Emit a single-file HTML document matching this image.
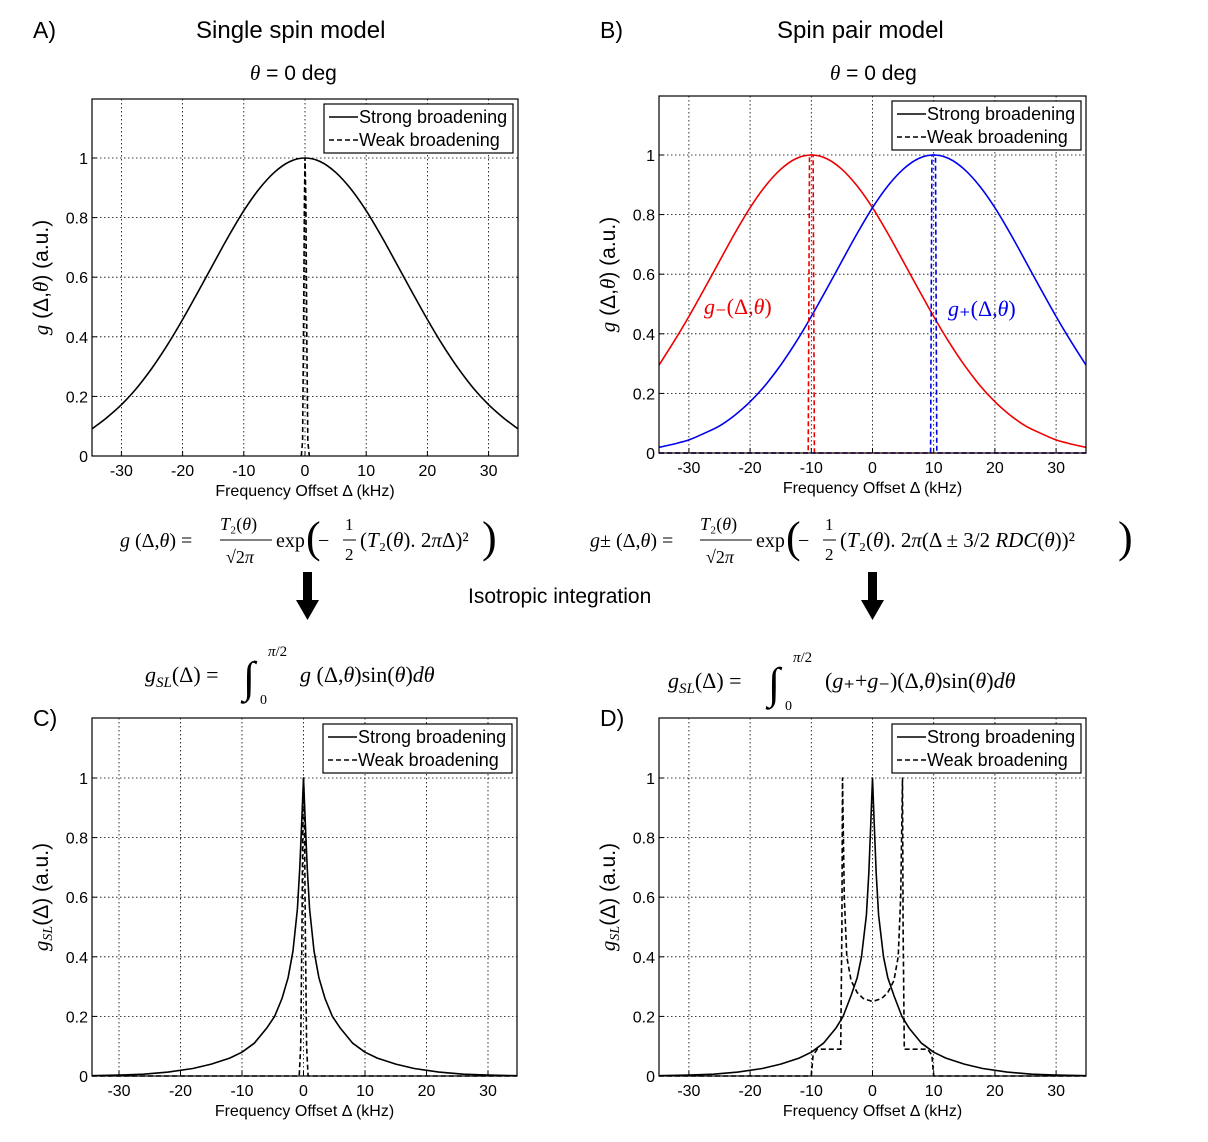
<!DOCTYPE html>
<html><head><meta charset="utf-8"><style>
html,body{margin:0;padding:0;background:#fff}
svg{display:block;font-family:"Liberation Sans",Arial,sans-serif}
.t{font-size:16px;fill:#000}
.ser{font-family:"Liberation Serif",serif;font-style:italic}
</style></head><body>
<svg id="fig" width="1208" height="1142" viewBox="0 0 1208 1142">
<g id="static">
<text x="33" y="38" font-size="23">A)</text>
<text x="196" y="38" font-size="24">Single spin model</text>
<text x="250" y="80" font-size="21"><tspan class="ser">θ</tspan> = 0 deg</text>
<text x="600" y="38" font-size="23">B)</text>
<text x="777" y="38" font-size="24">Spin pair model</text>
<text x="830" y="80" font-size="21"><tspan class="ser">θ</tspan> = 0 deg</text>
<text x="33" y="726" font-size="23">C)</text>
<text x="600" y="726" font-size="23">D)</text>
<text x="468" y="603" font-size="21">Isotropic integration</text>
<g font-family="Liberation Serif,serif" font-size="20">
<text x="120" y="547"><tspan font-style="italic">g</tspan> (Δ,<tspan font-style="italic">θ</tspan>) =</text>
<text x="220" y="530" font-size="18"><tspan font-style="italic">T</tspan>₂(<tspan font-style="italic">θ</tspan>)</text>
<line x1="220" y1="540" x2="272" y2="540" stroke="#000"/>
<text x="226" y="563" font-size="18">√2<tspan font-style="italic">π</tspan></text>
<text x="276" y="547">exp</text><text x="306" y="552" font-size="44" font-weight="100">(</text>
<text x="318" y="547">−</text><text x="345" y="530" font-size="17">1</text><line x1="343" y1="540" x2="356" y2="540" stroke="#000"/><text x="345" y="560" font-size="17">2</text>
<text x="360" y="547" font-size="21">(<tspan font-style="italic">T</tspan>₂(<tspan font-style="italic">θ</tspan>). 2<tspan font-style="italic">π</tspan>Δ)²</text>
<text x="482" y="552" font-size="44">)</text>
</g>
<g font-family="Liberation Serif,serif" font-size="20">
<text x="590" y="547"><tspan font-style="italic">g</tspan>± (Δ,<tspan font-style="italic">θ</tspan>) =</text>
<text x="700" y="530" font-size="18"><tspan font-style="italic">T</tspan>₂(<tspan font-style="italic">θ</tspan>)</text>
<line x1="700" y1="540" x2="752" y2="540" stroke="#000"/>
<text x="706" y="563" font-size="18">√2<tspan font-style="italic">π</tspan></text>
<text x="756" y="547">exp</text><text x="786" y="552" font-size="44">(</text>
<text x="798" y="547">−</text><text x="825" y="530" font-size="17">1</text><line x1="823" y1="540" x2="836" y2="540" stroke="#000"/><text x="825" y="560" font-size="17">2</text>
<text x="840" y="547" font-size="21">(<tspan font-style="italic">T</tspan>₂(<tspan font-style="italic">θ</tspan>). 2<tspan font-style="italic">π</tspan>(Δ ± 3/2  <tspan font-style="italic">RDC</tspan>(<tspan font-style="italic">θ</tspan>))²</text>
<text x="1118" y="552" font-size="44">)</text>
</g>
<g font-family="Liberation Serif,serif" font-size="22">
<text x="145" y="682"><tspan font-style="italic">g<tspan font-size="15" dy="5">SL</tspan></tspan><tspan dy="-5">(Δ) =</tspan></text>
<text x="243" y="692" font-size="44">∫</text><text x="268" y="656" font-size="15"><tspan font-style="italic">π</tspan>/2</text><text x="260" y="704" font-size="14">0</text>
<text x="300" y="682"><tspan font-style="italic">g</tspan> (Δ,<tspan font-style="italic">θ</tspan>)sin(<tspan font-style="italic">θ</tspan>)<tspan font-style="italic">dθ</tspan></text>
</g>
<g font-family="Liberation Serif,serif" font-size="22">
<text x="668" y="688"><tspan font-style="italic">g<tspan font-size="15" dy="5">SL</tspan></tspan><tspan dy="-5">(Δ) =</tspan></text>
<text x="768" y="698" font-size="44">∫</text><text x="793" y="662" font-size="15"><tspan font-style="italic">π</tspan>/2</text><text x="785" y="710" font-size="14">0</text>
<text x="825" y="688">(<tspan font-style="italic">g</tspan>₊+<tspan font-style="italic">g</tspan>₋)(Δ,<tspan font-style="italic">θ</tspan>)sin(<tspan font-style="italic">θ</tspan>)<tspan font-style="italic">dθ</tspan></text>
</g>
<g><rect x="303" y="572" width="9" height="30" fill="#000"/><polygon points="296,600 319,600 307.5,620" fill="#000"/></g>
<g><rect x="868" y="572" width="9" height="30" fill="#000"/><polygon points="861,600 884,600 872.5,620" fill="#000"/></g>
<text x="704" y="314" font-family="Liberation Serif,serif" font-size="22" fill="#e00"><tspan font-style="italic">g</tspan>₋(Δ,<tspan font-style="italic">θ</tspan>)</text>
<text x="948" y="316" font-family="Liberation Serif,serif" font-size="22" fill="#00e"><tspan font-style="italic">g</tspan>₊(Δ,<tspan font-style="italic">θ</tspan>)</text>
</g>
</svg>
<script>
// Panel A data
const aStrongX=[-35,-32.5,-30,-27.5,-25,-22.5,-20,-17.5,-15,-12.5,-10,-7.5,-5,-2.5,0,2.5,5,7.5,10,12.5,15,17.5,20,22.5,25,27.5,30,32.5,35];
const aStrongY=[0.091,0.127,0.172,0.228,0.295,0.372,0.458,0.550,0.644,0.737,0.823,0.896,0.952,0.988,1,0.988,0.952,0.896,0.823,0.737,0.644,0.550,0.458,0.372,0.295,0.228,0.172,0.127,0.091];
const aWeakX=[-0.6,-0.4,-0.25,-0.1,0,0.15,0.3,0.45,0.7];
const aWeakY=[0,0.05,0.4,0.85,1,0.85,0.4,0.05,0];
// Panel B data
const bX=[-35,-32.5,-30,-27.5,-25,-22.5,-20,-17.5,-15,-12.5,-10,-7.5,-5,-2.5,0,2.5,5,7.5,10,12.5,15,17.5,20,22.5,25,27.5,30,32.5,35];
const bRedY=[0.295,0.372,0.458,0.550,0.644,0.737,0.823,0.896,0.952,0.988,1,0.988,0.952,0.896,0.823,0.737,0.644,0.550,0.458,0.372,0.295,0.228,0.172,0.127,0.091,0.066,0.044,0.030,0.019];
const bBlueY=[0.019,0.030,0.044,0.066,0.091,0.127,0.172,0.228,0.295,0.372,0.458,0.550,0.644,0.737,0.823,0.896,0.952,0.988,1,0.988,0.952,0.896,0.823,0.737,0.644,0.550,0.458,0.372,0.295];
const bRedWeakX=[-35,-10.5,-10.3,-10,-9.7,-9.5,35];
const bRedWeakY=[0,0,1,1,1,0,0];
const bBlueWeakX=[-35,9.5,9.7,10,10.3,10.5,35];
const bBlueWeakY=[0,0,1,1,1,0,0];
// Panel C data
const cStrongX=[-35,-30,-26,-22,-18,-15,-12,-10,-8,-6,-4.7,-3.5,-2.5,-1.7,-1,-0.6,-0.3,0,0.3,0.6,1,1.7,2.5,3.5,4.7,6,8,10,12,15,18,22,26,30,35];
const cStrongY=[0.001,0.003,0.006,0.013,0.025,0.04,0.06,0.08,0.11,0.16,0.2,0.26,0.33,0.42,0.56,0.7,0.85,1,0.85,0.7,0.56,0.42,0.33,0.26,0.2,0.16,0.11,0.08,0.06,0.04,0.025,0.013,0.006,0.003,0.001];
const cWeakX=[-35,-0.7,-0.45,-0.25,-0.1,0,0.15,0.3,0.5,0.75,35];
const cWeakY=[0,0,0.1,0.5,0.9,1,0.9,0.5,0.1,0,0];
// Panel D data
const dStrongX=[-35,-30,-26,-22,-18,-15,-12,-10,-8,-6,-4.8,-3.5,-2.5,-1.8,-1,-0.6,-0.3,0,0.3,0.6,1,1.8,2.5,3.5,4.8,6,8,10,12,15,18,22,26,30,35];
const dStrongY=[0.001,0.003,0.006,0.013,0.025,0.04,0.06,0.08,0.11,0.16,0.2,0.27,0.33,0.4,0.54,0.68,0.84,1,0.84,0.68,0.54,0.4,0.33,0.27,0.2,0.16,0.11,0.08,0.06,0.04,0.025,0.013,0.006,0.003,0.001];
const dWeakX=[-35,-10,-9.7,-9,-5.2,-5.0,-4.9,-4.6,-4.2,-3.5,-2.5,-1.5,0,1.5,2.5,3.5,4.2,4.6,4.9,5.0,5.2,9,9.7,10,35];
const dWeakY=[0,0,0.07,0.09,0.09,0.5,1,0.6,0.4,0.32,0.28,0.26,0.25,0.26,0.28,0.32,0.4,0.6,1,0.5,0.09,0.09,0.07,0,0];
const xTicks=[-30,-20,-10,0,10,20,30];
const xTickLabels=["-30","-20","-10","0","10","20","30"];
const yTicks=[0,0.2,0.4,0.6,0.8,1];
const yTickLabels=["0","0.2","0.4","0.6","0.8","1"];

const NS="http://www.w3.org/2000/svg";
const svg=document.getElementById('fig');
function mk(tag,attrs,parent){const e=document.createElementNS(NS,tag);for(const k in attrs)e.setAttribute(k,attrs[k]);(parent||svg).appendChild(e);return e;}

function panel(cfg){
  const g=mk('g',{});
  
  
  const sx=v=>cfg.x0+v*cfg.k, sy=v=>cfg.y0-v*(cfg.y0-cfg.y1);
  xTicks.forEach((t,i)=>{
    const l=mk('line',{x1:sx(t),x2:sx(t),y1:cfg.T,y2:cfg.B,stroke:'#000','stroke-width':0.8,'stroke-dasharray':'1.5,2.5'},g);
    
    
    mk('line',{x1:sx(t),x2:sx(t),y1:cfg.B,y2:cfg.B-5,stroke:'#000'},g);
    const tx=mk('text',{x:sx(t),y:cfg.B+20,'text-anchor':'middle',class:'t'},g);
    tx.textContent=xTickLabels[i];
    
    
  });
  yTicks.forEach((t,i)=>{
    if(t>0){const l=mk('line',{x1:cfg.L,x2:cfg.R,y1:sy(t),y2:sy(t),stroke:'#000','stroke-width':0.8,'stroke-dasharray':'1.5,2.5'},g);
    
    }
    mk('line',{x1:cfg.L,x2:cfg.L+5,y1:sy(t),y2:sy(t),stroke:'#000'},g);
    const tx=mk('text',{x:cfg.L-4,y:sy(t)+6,'text-anchor':'end',class:'t'},g);
    tx.textContent=yTickLabels[i];
    
    
  });
  cfg.series.forEach(s=>{
    const P=s.x.map((v,i)=>[Math.max(cfg.L,Math.min(cfg.R,sx(v))),sy(s.y[i])]);
    let d='M'+P[0][0].toFixed(1)+','+P[0][1].toFixed(1);
    for(let i=0;i<P.length-1;i++){
      if(s.smooth){
        const p0=P[Math.max(0,i-1)],p1=P[i],p2=P[i+1],p3=P[Math.min(P.length-1,i+2)];
        const c1=[p1[0]+(p2[0]-p0[0])/6,p1[1]+(p2[1]-p0[1])/6],c2=[p2[0]-(p3[0]-p1[0])/6,p2[1]-(p3[1]-p1[1])/6];
        d+='C'+c1.map(v=>v.toFixed(1)).join(',')+' '+c2.map(v=>v.toFixed(1)).join(',')+' '+p2.map(v=>v.toFixed(1)).join(',');
      } else d+='L'+P[i+1][0].toFixed(1)+','+P[i+1][1].toFixed(1);
    }
    const p=mk('path',{d:d,fill:'none',stroke:s.c,'stroke-width':1.6,'stroke-dasharray':s.dash?'5,3':'none','stroke-linejoin':'round'},g);
    
    
  });
  const bx=mk('rect',{x:cfg.L,y:cfg.T,width:cfg.R-cfg.L,height:cfg.B-cfg.T,fill:'none',stroke:'#000','stroke-width':1.2},g);
  
  
  const lg=mk('g',{},g);
  
  
  mk('rect',{x:cfg.lx,y:cfg.ly,width:189,height:49,fill:'#fff',stroke:'#000','stroke-width':1.2},lg);
  mk('line',{x1:cfg.lx+5,x2:cfg.lx+34,y1:cfg.ly+13,y2:cfg.ly+13,stroke:'#000','stroke-width':1.6},lg);
  mk('line',{x1:cfg.lx+5,x2:cfg.lx+34,y1:cfg.ly+36,y2:cfg.ly+36,stroke:'#000','stroke-width':1.6,'stroke-dasharray':'5,3'},lg);
  const t1=mk('text',{x:cfg.lx+35,y:cfg.ly+19,'font-size':'18'},lg);t1.textContent='Strong broadening';
  
  
  const t2=mk('text',{x:cfg.lx+35,y:cfg.ly+42,'font-size':'18'},lg);t2.textContent='Weak broadening';
  
  
  const xl=mk('text',{x:(cfg.L+cfg.R)/2,y:cfg.B+40,'text-anchor':'middle',class:'t'},g);
  xl.textContent='Frequency Offset Δ (kHz)';
  
  
  const yc=(cfg.T+cfg.B)/2;
  const yl=mk('text',{x:cfg.L-44,y:yc,'text-anchor':'middle','font-size':'21',transform:'rotate(-90 '+(cfg.L-44)+' '+yc+')'},g);
  yl.innerHTML=cfg.ylab;
  
  
}
const yA='<tspan font-family="Liberation Serif,serif" font-style="italic">g</tspan> (Δ,<tspan font-family="Liberation Serif,serif" font-style="italic">θ</tspan>) (a.u.)';
const yC='<tspan font-family="Liberation Serif,serif" font-style="italic">g<tspan font-size="14" dy="4">SL</tspan></tspan><tspan dy="-4">(Δ) (a.u.)</tspan>';
panel({name:'panel-a',L:92,R:518,T:99,B:456,x0:305,k:6.12,y0:456,y1:158,lx:324,ly:104,ylab:yA,
 series:[{x:aStrongX,y:aStrongY,c:'#000',smooth:1,n:'series-a-strong'},{x:aWeakX,y:aWeakY,c:'#000',dash:1,n:'series-a-weak'}]});
panel({name:'panel-b',L:659,R:1086,T:96,B:453,x0:872.5,k:6.12,y0:453,y1:155,lx:892,ly:101,ylab:yA,
 series:[{x:bX,y:bRedY,c:'#e00',smooth:1,n:'series-b-g-minus-strong'},{x:bX,y:bBlueY,c:'#00e',smooth:1,n:'series-b-g-plus-strong'},
 {x:bRedWeakX,y:bRedWeakY,c:'#e00',dash:1,n:'series-b-g-minus-weak'},{x:bBlueWeakX,y:bBlueWeakY,c:'#00e',dash:1,n:'series-b-g-plus-weak'}]});
panel({name:'panel-c',L:92,R:517,T:718,B:1076,x0:303.5,k:6.15,y0:1076,y1:778,lx:323,ly:724,ylab:yC,
 series:[{x:cStrongX,y:cStrongY,c:'#000',n:'series-c-strong'},{x:cWeakX,y:cWeakY,c:'#000',dash:1,n:'series-c-weak'}]});
panel({name:'panel-d',L:659,R:1086,T:718,B:1076,x0:872.5,k:6.12,y0:1076,y1:778,lx:892,ly:724,ylab:yC,
 series:[{x:dStrongX,y:dStrongY,c:'#000',n:'series-d-strong'},{x:dWeakX,y:dWeakY,c:'#000',dash:1,n:'series-d-weak'}]});
</script>
</body></html>
